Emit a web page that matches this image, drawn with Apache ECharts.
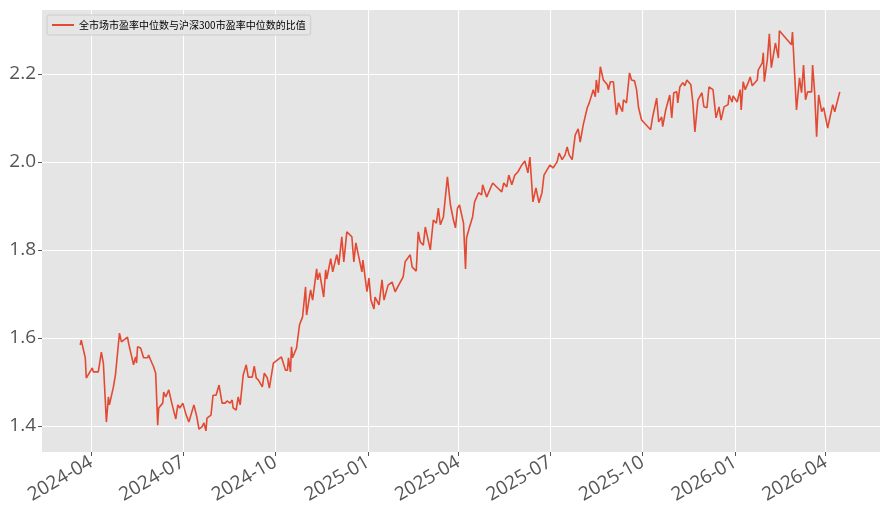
<!DOCTYPE html>
<html><head><meta charset="utf-8">
<script src="https://cdn.jsdelivr.net/npm/echarts@6/dist/echarts.min.js"></script>
<style>html,body{margin:0;padding:0;background:#fff}#c{width:889px;height:519px}</style>
</head><body><div id="c"></div>
<script>
const startDate = '2024-04-01';
const dayOffsets = [-11,-10,-6,-5,1,2,7,10,12,15,17,18,22,24,28,30,36,37,42,44,45,46,49,52,56,57,59,62,64,66,67,71,72,74,77,80,84,86,88,91,94,97,102,105,107,110,112,114,115,119,121,124,127,130,133,135,138,140,141,144,146,148,151,154,156,160,162,164,166,170,172,175,177,181,189,193,195,196,198,199,200,204,207,210,213,214,218,220,224,225,227,231,233,234,238,240,244,246,249,251,254,259,261,263,269,270,274,276,278,281,282,286,289,291,295,299,302,310,312,317,319,323,325,327,330,332,337,340,343,345,347,350,354,357,360,362,364,366,370,372,373,376,379,381,385,388,389,393,399,403,408,410,413,415,418,421,424,428,431,434,436,439,442,445,448,450,453,456,459,463,465,468,471,473,475,478,481,484,486,489,493,495,499,501,502,504,506,509,513,514,516,519,522,524,528,529,532,535,537,540,542,544,547,556,558,562,564,567,568,571,575,577,579,582,583,585,588,590,592,596,598,600,603,607,609,612,614,618,621,624,626,629,633,634,637,638,642,645,646,648,650,653,655,657,662,663,667,668,669,672,674,676,680,683,684,696,697,701,704,706,708,710,712,716,717,719,721,723,726,728,732,737,739,744];
const ratioValues = [1.584,1.595,1.555,1.509,1.532,1.523,1.523,1.568,1.543,1.409,1.466,1.448,1.489,1.516,1.611,1.591,1.602,1.589,1.539,1.557,1.543,1.580,1.577,1.555,1.555,1.561,1.550,1.534,1.520,1.402,1.441,1.452,1.477,1.466,1.482,1.452,1.416,1.448,1.441,1.452,1.427,1.409,1.448,1.420,1.393,1.398,1.407,1.389,1.418,1.425,1.470,1.470,1.493,1.452,1.452,1.457,1.452,1.459,1.441,1.436,1.466,1.448,1.516,1.539,1.511,1.511,1.536,1.509,1.505,1.489,1.520,1.509,1.486,1.543,1.557,1.527,1.527,1.555,1.523,1.580,1.555,1.577,1.630,1.648,1.716,1.652,1.709,1.686,1.757,1.732,1.748,1.693,1.755,1.734,1.780,1.750,1.789,1.766,1.830,1.773,1.841,1.830,1.773,1.816,1.750,1.777,1.705,1.736,1.686,1.666,1.693,1.675,1.732,1.686,1.720,1.727,1.705,1.739,1.773,1.789,1.761,1.752,1.841,1.818,1.811,1.852,1.800,1.868,1.861,1.895,1.857,1.875,1.966,1.902,1.868,1.850,1.895,1.902,1.861,1.757,1.827,1.852,1.875,1.909,1.930,1.925,1.948,1.920,1.952,1.943,1.932,1.952,1.943,1.970,1.948,1.970,1.977,1.993,2.002,1.975,2.011,1.909,1.941,1.907,1.930,1.970,1.982,1.993,1.986,2.000,2.020,2.005,2.016,2.034,2.016,2.005,2.061,2.075,2.045,2.084,2.123,2.134,2.164,2.148,2.186,2.157,2.216,2.186,2.175,2.164,2.182,2.182,2.107,2.134,2.114,2.141,2.134,2.202,2.186,2.184,2.164,2.123,2.095,2.073,2.102,2.145,2.091,2.102,2.080,2.118,2.152,2.100,2.157,2.159,2.134,2.170,2.180,2.173,2.186,2.175,2.134,2.068,2.141,2.157,2.125,2.123,2.170,2.164,2.100,2.125,2.095,2.125,2.130,2.152,2.136,2.150,2.136,2.164,2.118,2.182,2.164,2.180,2.193,2.173,2.186,2.209,2.225,2.248,2.182,2.232,2.291,2.214,2.270,2.236,2.298,2.266,2.295,2.118,2.191,2.157,2.220,2.141,2.159,2.159,2.220,2.159,2.057,2.152,2.114,2.123,2.077,2.130,2.114,2.159];
const xTickLabels = ['2024-04','2024-07','2024-10','2025-01','2025-04','2025-07','2025-10','2026-01','2026-04'];
const yTickValues = [1.4,1.6,1.8,2.0,2.2];
const seriesName = '全市场市盈率中位数与沪深300市盈率中位数的比值';

const DAY = 86400000;
const base = Date.UTC(2024,3,1);
const data = dayOffsets.map((d,i)=>[base + d*DAY, ratioValues[i]]);
const xTicks = xTickLabels.map(s=>{const [y,m]=s.split('-').map(Number);return Date.UTC(y,m-1,1);});
const chart = echarts.init(document.getElementById('c'));
chart.setOption({
  animation:false,
  backgroundColor:'#fff',
  textStyle:{fontFamily:'"Open Sans","DejaVu Sans",sans-serif'},
  legend:{left:47,top:15,itemWidth:22,itemHeight:2,itemGap:6,padding:[5,5],
    backgroundColor:'#E5E5E5',borderColor:'#ccc',borderWidth:1,borderRadius:2,
    textStyle:{fontSize:10,color:'#000',fontFamily:'"Noto Sans CJK SC",sans-serif'},
    icon:'rect',data:[seriesName]},
  grid:{left:42,right:9,top:10,bottom:67,containLabel:false,show:true,backgroundColor:'#E5E5E5',borderWidth:0},
  xAxis:{type:'value',min:base-49*DAY,max:base+784*DAY,
    axisLine:{show:false},
    axisTick:{show:true,length:4,lineStyle:{color:'#555'},customValues:xTicks},
    splitLine:{show:true,lineStyle:{color:'#fff',width:1}},
    axisLabel:{customValues:xTicks,rotate:30,fontSize:19,color:'#555',margin:9,
      formatter:v=>{const d=new Date(v);return d.getUTCFullYear()+'-'+String(d.getUTCMonth()+1).padStart(2,'0');}}},
  yAxis:{type:'value',min:1.341,max:2.345,
    axisLine:{show:false},
    axisTick:{show:true,length:4,lineStyle:{color:'#555'},customValues:yTickValues},
    splitLine:{show:true,lineStyle:{color:'#fff',width:1}},
    axisLabel:{customValues:yTickValues,fontSize:19,color:'#555',margin:6,formatter:v=>v.toFixed(1)}},
  series:[{name:seriesName,type:'line',data:data,showSymbol:false,
    lineStyle:{color:'#E24A33',width:1.6},itemStyle:{color:'#E24A33'}}]
});
</script></body></html>
